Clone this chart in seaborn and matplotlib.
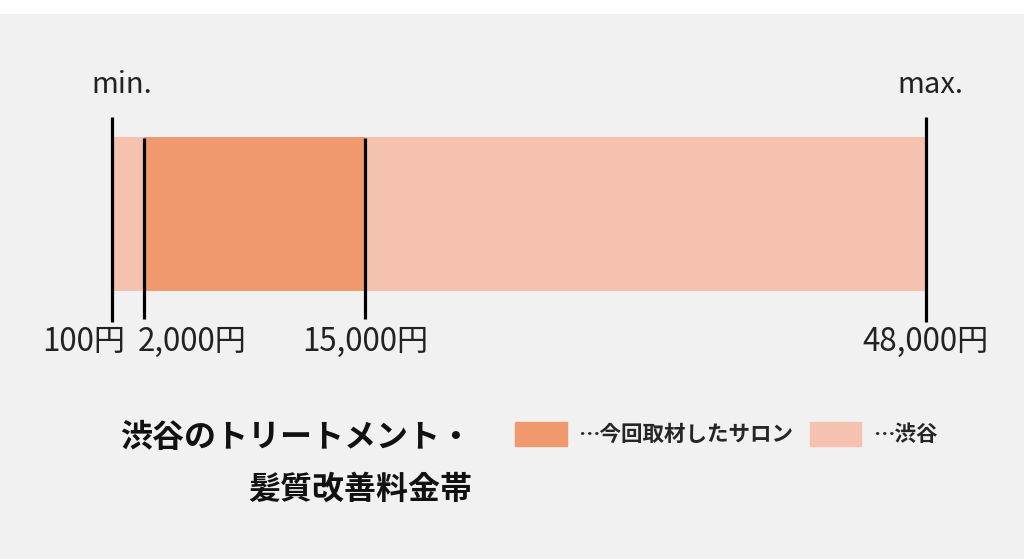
import matplotlib
matplotlib.use("Agg")
import matplotlib.pyplot as plt
import matplotlib.patches as mpatches
import seaborn as sns

# price range data
price_min = 100
price_max = 48000
salon_low = 2000
salon_high = 15000
tick_values = [100, 2000, 15000, 48000]
tick_labels = ["100円", "2,000円", "15,000円", "48,000円"]
end_labels = ["min.", "max."]
title_lines = ["渋谷のトリートメント・", "髪質改善料金帯"]
legend_labels = ["…今回取材したサロン", "…渋谷"]

dark = "#f0986e"
light = "#f5c2b0"
bg = "#f1f1f1"

sns.set_theme(style="white")
plt.rcParams['font.family'] = ['Noto Sans CJK JP', 'DejaVu Sans']

fig = plt.figure(figsize=(10.24, 5.59), dpi=100, facecolor="white")
ax = fig.add_axes([0, 0, 1, 545 / 559])
ax.set_facecolor(bg)
for s in ax.spines.values():
    s.set_visible(False)
ax.set_xticks([])
ax.set_yticks([])

# x axis in yen, y axis in image pixel rows
px_per_yen = (926 - 112) / (price_max - price_min)
ax.set_xlim(price_min - 112 / px_per_yen, price_max + (1024 - 926) / px_per_yen)
ax.set_ylim(559, 14)

bar_y, bar_h = 214, 154
ax.barh(bar_y, price_max - price_min, left=price_min, height=bar_h, color=light, lw=0)
ax.barh(bar_y, salon_high - salon_low, left=salon_low, height=bar_h, color=dark, lw=0)

ax.vlines(tick_values, [117, 138, 138, 117], [322, 319, 319, 322], color="black", lw=2.3)

offsets = [(13, "right"), (-7, "left"), (0, "center"), (0, "center")]
for v, lab, (dx, ha) in zip(tick_values, tick_labels, offsets):
    ax.annotate(lab, (v, 342), xytext=(dx, 0), textcoords="offset pixels",
                ha=ha, va="center", fontsize=22.5, color="#222222")

ax.annotate(end_labels[0], (price_min, 85), xytext=(10, 0), textcoords="offset pixels",
            ha="center", va="center", fontsize=21, color="#222222")
ax.annotate(end_labels[1], (price_max, 85), xytext=(4, 0), textcoords="offset pixels",
            ha="center", va="center", fontsize=21, color="#222222")

# title
fig.text(472 / 1024, 1 - 438 / 559, title_lines[0], ha="right", va="center",
         fontsize=23, fontweight="bold", color="#111111")
fig.text(472 / 1024, 1 - 490 / 559, title_lines[1], ha="right", va="center",
         fontsize=23, fontweight="bold", color="#111111")

handles = [mpatches.Patch(color=dark), mpatches.Patch(color=light)]
fig.legend(handles, legend_labels, ncol=2, frameon=False,
           prop={"size": 15.5, "weight": "bold"},
           loc="center left", bbox_to_anchor=(515 / 1024, 1 - 434 / 559),
           borderpad=0, borderaxespad=0, handlelength=2.4, handleheight=1.3,
           handletextpad=0.55, columnspacing=0.75)

fig.savefig("out.png", dpi=100, facecolor="white")
